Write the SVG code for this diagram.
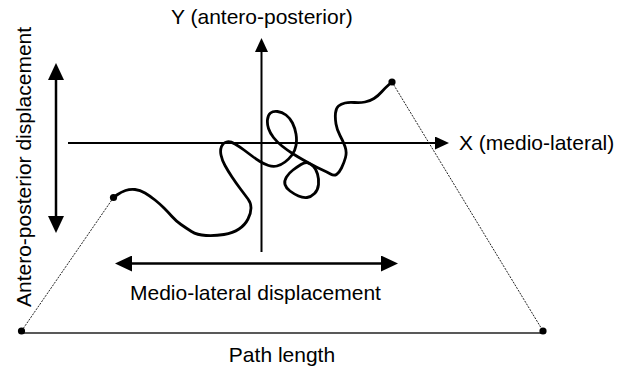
<svg xmlns="http://www.w3.org/2000/svg" width="629" height="369" viewBox="0 0 629 369">
<style>
.lbl{font-family:"Liberation Sans",Arial,sans-serif;font-size:21px;fill:#000}
.axis{stroke:#000;stroke-width:2;fill:none}
.dbl{stroke:#000;stroke-width:2.5;fill:none}
.dot{fill:#000}
.dash{stroke:#222;stroke-width:1;stroke-dasharray:2,1.2;fill:none}
.trace{stroke:#000;stroke-width:2.8;fill:none;stroke-linecap:round;stroke-linejoin:round}
</style>
<defs>
<marker id="ah" markerUnits="userSpaceOnUse" markerWidth="14" markerHeight="13" refX="0" refY="6.5" orient="auto"><path d="M0,0 L14,6.5 L0,13 Z" fill="#000"/></marker>
<marker id="dh" markerUnits="userSpaceOnUse" markerWidth="17" markerHeight="16" refX="0" refY="8" orient="auto-start-reverse"><path d="M0,0 L17,8 L0,16 Z" fill="#000"/></marker>
</defs>
<g id="connectors">
<line id="x-axis" class="axis" x1="68" y1="143" x2="435" y2="143" marker-end="url(#ah)"/>
<line id="y-axis" class="axis" x1="261.5" y1="252" x2="261.5" y2="52" marker-end="url(#ah)"/>
<line id="ap-arrow" class="dbl" x1="56" y1="80" x2="56" y2="216" marker-start="url(#dh)" marker-end="url(#dh)"/>
<line id="ml-arrow" class="dbl" x1="132" y1="263.5" x2="381" y2="263.5" marker-start="url(#dh)" marker-end="url(#dh)"/>
<line id="path-base" stroke="#222" stroke-width="1.6" x1="21.5" y1="333" x2="543" y2="333"/>
<line id="dash-left" class="dash" x1="21.5" y1="331" x2="113.5" y2="197.5"/>
<line id="dash-right" class="dash" x1="392" y1="82" x2="543" y2="331"/>
</g>
<g id="trace">
<path class="trace" d="M113.5,197.5 L117.25,194.75 Q121,192 125.5,190.5 Q130,189 135,189.5 Q140,190 145,193 Q150,196 155,200 Q160,204 164,208 Q168,212 172,216.5 Q176,221 181,224.5 Q186,228 191.5,231.5 Q197,235 206,235.5 Q215,236 224,234.5 Q233,233 239,229 Q245,225 248,219 Q251,213 251,208 Q251,203 248,199 Q245,195 240.5,189 Q236,183 232,177 Q228,171 225,165.5 Q222,160 221,155 Q220,150 221.5,146.5 Q223,143 226.5,142 Q230,141 235,144 Q240,147 244,150 Q248,153 252,156 Q256,159 260,161.5 Q264,164 268.5,165.5 Q273,167 277,166 Q281,165 285,162 Q289,159 292,155 Q295,151 296,145.5 Q297,140 296,134 Q295,128 292.5,123 Q290,118 286,115 Q282,112 277.5,111.5 Q273,111 270.5,113 Q268,115 267.5,119.5 Q267,124 268.5,128.5 Q270,133 273.5,137.5 Q277,142 282,146 Q287,150 292.5,153.5 Q298,157 302.5,159.5 Q307,162 311.5,164.5 Q316,167 321.5,169.5 Q327,172 330.5,174 Q334,176 336.5,174.5 Q339,173 341.5,168 Q344,163 345.5,157.5 Q347,152 345,146.5 Q343,141 340,135.5 Q337,130 336,124 Q335,118 335.5,113 Q336,108 338.5,106 Q341,104 345,103 Q349,102 354.5,102.5 Q360,103 365,102 Q370,101 374,98.5 Q378,96 381.5,92 Q385,88 388.5,85 L392,82"/>
<path class="trace" d="M301,164.5 Q297,167 293,170 Q289,173 286.5,177 Q284,181 285,184.5 Q286,188 290,191 Q294,194 298.5,196 Q303,198 307,197.5 Q311,197 314.5,193.5 Q318,190 318.5,184.5 Q319,179 317.5,174 Q316,169 313.5,166.5 Q311,164 308,163 Q305,162 301,164.5 Z"/>
</g>
<g id="points">
<circle class="dot" cx="113.5" cy="197.5" r="3.6"/>
<circle class="dot" cx="392" cy="82" r="3.6"/>
<circle class="dot" cx="21.5" cy="331" r="3.6"/>
<circle class="dot" cx="543" cy="331" r="3.6"/>
</g>
<g id="labels">
<text id="y-label" class="lbl" x="171" y="24">Y (antero-posterior)</text>
<text id="x-label" class="lbl" x="459" y="150">X (medio-lateral)</text>
<text id="ml-label" class="lbl" x="130" y="300">Medio-lateral displacement</text>
<text id="pl-label" class="lbl" x="282" y="362" text-anchor="middle">Path length</text>
<text id="ap-label" class="lbl" transform="translate(31,307) rotate(-90)">Antero-posterior displacement</text>
</g>
</svg>
